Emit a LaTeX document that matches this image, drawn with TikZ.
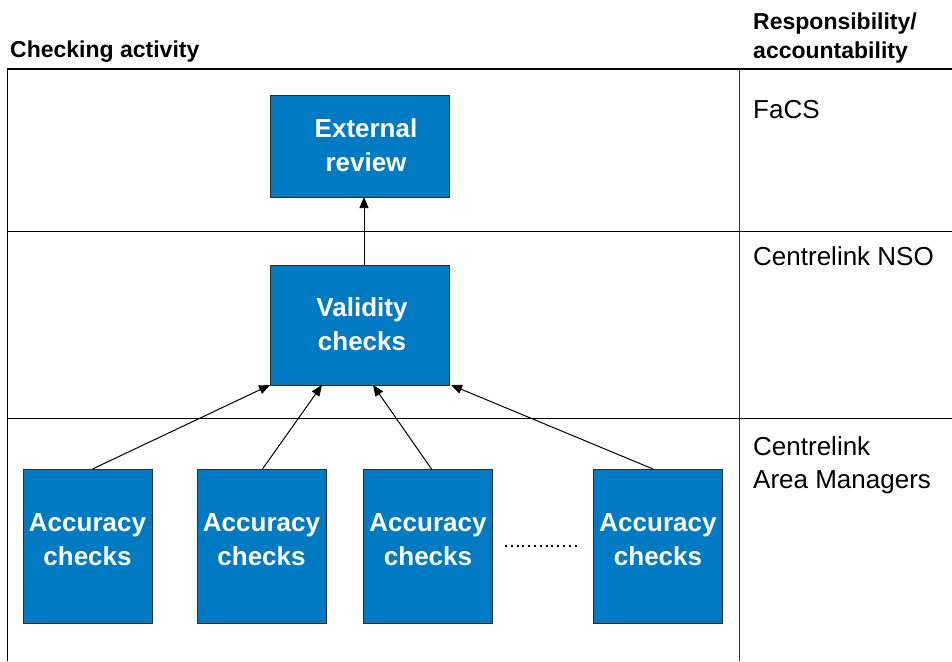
\documentclass[tikz,border=0pt]{standalone}
\usepackage{fontspec}
\setmainfont{Liberation Sans}
\usetikzlibrary{arrows.meta,calc}
\definecolor{boxblue}{RGB}{0,122,194}
\definecolor{boxedge}{RGB}{45,45,45}
\begin{document}
\begin{tikzpicture}[x=1pt,y=-1pt,
  bluebox/.style={draw=boxedge,line width=1pt,fill=boxblue,inner sep=0pt,outer sep=0pt},
  boxtext/.style={text=white,font=\bfseries\fontsize{26}{34}\selectfont,align=center,inner sep=0pt},
  headtext/.style={font=\bfseries\fontsize{23}{29}\selectfont,anchor=base west,inner sep=0pt},
  roletext/.style={font=\fontsize{26}{33}\selectfont,anchor=base west,inner sep=0pt},
  rule/.style={line width=1pt,black},
  conn/.style={line width=1pt,-{Triangle[length=11pt,width=9pt]}}]
\useasboundingbox (0,0) rectangle (952,661);
% table
\draw[rule,line width=1.2pt] (7,69) -- (952,69);
\draw[rule] (7,69) -- (7,661);
\draw[rule,draw=black!80] (739,69) -- (739,661);
\draw[rule] (7,231) -- (952,231);
\draw[rule] (7,418) -- (952,418);
% headers
\node[headtext] (h1) at (10,58) {Checking activity};
\node[headtext] (h2) at (753,30) {Responsibility/};
\node[headtext] (h3) at (753,59) {accountability};
% roles
\node[roletext] (r1) at (753,118) {FaCS};
\node[roletext] (r2) at (753,265) {Centrelink NSO};
\node[roletext] (r3) at (753,455) {Centrelink};
\node[roletext] (r4) at (753,488) {Area Managers};
% boxes
\node[bluebox,minimum width=179pt,minimum height=102pt] (ext) at (359.5,146) {};
\node[boxtext] (extt) at (366,145) {External\\review};
\node[bluebox,minimum width=179pt,minimum height=120pt] (val) at (359.5,325) {};
\node[boxtext] (valt) at (362,324) {Validity\\checks};
\foreach \i/\x in {1/87.5,2/261.5,3/428,4/658}{
  \node[bluebox,minimum width=129pt,minimum height=154pt] (a\i) at (\x,546) {};
  \node[boxtext] (a\i t) at (\x,540) {Accuracy\\checks};
}
% dotted
\coordinate (d1) at (505,546);
\coordinate (d2) at (580,546);
\draw[line width=2pt,dash pattern=on 2pt off 3.8pt] (d1) -- (d2);
% connectors
\draw[conn] (val.north) ++(4.5pt,0) -- ([xshift=4.5pt]ext.south);
\draw[conn] ([xshift=5pt]a1.north) -- (val.south west);
\draw[conn] ([xshift=1pt]a2.north) -- ([xshift=52pt]val.south west);
\draw[conn] ([xshift=3.5pt]a3.north) -- ([xshift=103pt]val.south west);
\draw[conn] ([xshift=-5pt]a4.north) -- ([xshift=2pt]val.south east);
\end{tikzpicture}
\end{document}
